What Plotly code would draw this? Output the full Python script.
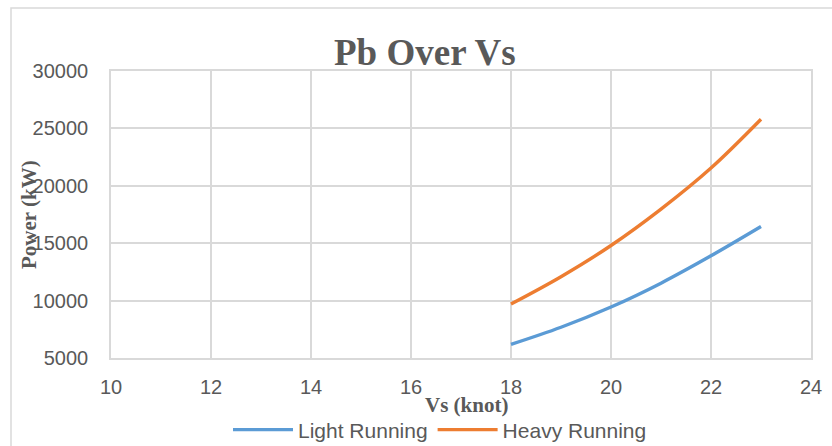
import plotly.graph_objects as go

# Data
speed_knots = [18, 19, 20, 21, 22, 23]
light_running_kw = [6190, 7680, 9440, 11520, 13900, 16450]
heavy_running_kw = [9700, 12080, 14800, 17970, 21550, 25800]

x_ticks = [10, 12, 14, 16, 18, 20, 22, 24]
y_ticks = [5000, 10000, 15000, 20000, 25000, 30000]

W, H = 832, 446
L, R, T, B = 111, 21, 71, 88
pw, ph = W - L - R, H - T - B

def px(xp):
    return (xp - L) / pw

def py(yp):
    return (H - B - yp) / ph

grid = "#d9d9d9"
txt = "#595959"
sans = "Liberation Sans, Arial, sans-serif"
serif = "Liberation Serif, Times New Roman, serif"

fig = go.Figure()
fig.add_trace(go.Scatter(x=speed_knots, y=light_running_kw, mode="lines",
                         name="Light Running",
                         line=dict(color="#5B9BD5", width=3.4, shape="spline")))
fig.add_trace(go.Scatter(x=speed_knots, y=heavy_running_kw, mode="lines",
                         name="Heavy Running",
                         line=dict(color="#ED7D31", width=3.4, shape="spline")))

fig.update_layout(
    width=W, height=H,
    margin=dict(l=L, r=R, t=T, b=B, pad=0, autoexpand=False),
    paper_bgcolor="white", plot_bgcolor="white",
    showlegend=True,
    legend=dict(orientation="h", xref="paper", x=px(440), xanchor="center",
                yref="container", y=1 - 430 / H, yanchor="middle",
                font=dict(family=sans, size=21, color=txt),
                bgcolor="rgba(0,0,0,0)", itemwidth=60, tracegroupgap=0),
    xaxis=dict(range=[10, 24], tickvals=x_ticks, ticktext=[str(v) for v in x_ticks],
               showgrid=True, gridcolor=grid, gridwidth=1.6,
               showline=True, linecolor=grid, linewidth=1.6, mirror=True,
               zeroline=False, ticks="", ticklabelstandoff=10, automargin=False,
               tickfont=dict(family=sans, size=20, color=txt)),
    yaxis=dict(range=[5000, 30000], tickvals=y_ticks, ticktext=[str(v) for v in y_ticks],
               showgrid=True, gridcolor=grid, gridwidth=1.6,
               showline=True, linecolor=grid, linewidth=1.6, mirror=True,
               zeroline=False, ticks="", ticklabelstandoff=17, automargin=False,
               tickfont=dict(family=sans, size=20, color=txt)),
    shapes=[dict(type="rect", xref="paper", yref="paper",
                 x0=px(11), x1=px(840), y0=py(460), y1=py(8),
                 line=dict(color="#d9d9d9", width=1.5), fillcolor="rgba(0,0,0,0)",
                 layer="below")],
    annotations=[
        dict(text="<b>Pb Over Vs</b>", xref="paper", yref="paper",
             x=px(425), y=py(52), xanchor="center", yanchor="middle",
             showarrow=False, font=dict(family=serif, size=37, color=txt)),
        dict(text="<b>Power (kW)</b>", xref="paper", yref="paper",
             x=px(29), y=py(215), xanchor="center", yanchor="middle",
             textangle=-90, showarrow=False,
             font=dict(family=serif, size=21, color=txt)),
        dict(text="<b>Vs (knot)</b>", xref="paper", yref="paper",
             x=px(466), y=py(405), xanchor="center", yanchor="middle",
             showarrow=False, font=dict(family=serif, size=21, color=txt)),
    ],
)

fig.write_html("out.html")
